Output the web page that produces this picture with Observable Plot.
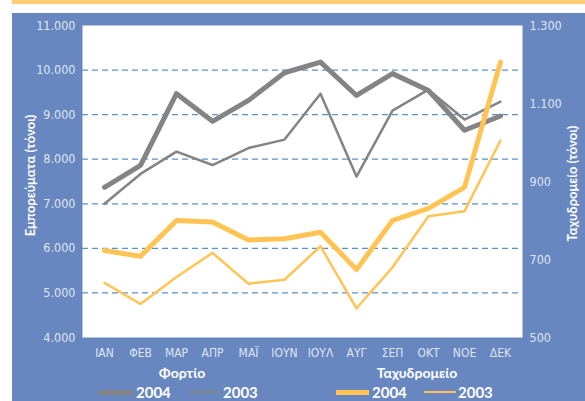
<!DOCTYPE html>
<html><head><meta charset="utf-8">
<script src="https://cdn.jsdelivr.net/npm/d3@7"></script>
<script src="https://cdn.jsdelivr.net/npm/@observablehq/plot@0.6"></script>
<style>
html,body{margin:0;padding:0;background:#fff;}
#wrap{position:relative;width:585px;height:401px;overflow:hidden;background:#fff;}
#ybar{position:absolute;left:12px;top:0;width:573px;height:4px;background:#ffcd75;}
#panel{position:absolute;left:12px;top:13px;width:573px;height:388px;background:#6887c1;}
#chart{position:absolute;left:0;top:0;}
.lg{position:absolute;color:#fff;font-family:Lato,"Open Sans",sans-serif;font-weight:bold;white-space:nowrap;line-height:1;}
.sw{position:absolute;}
</style></head>
<body>
<div id="wrap">
  <div id="ybar"></div>
  <div id="panel"></div>
  <div id="chart"></div>
  <div id="legend"></div>
</div>
<script>
const months = ["ΙΑΝ","ΦΕΒ","ΜΑΡ","ΑΠΡ","ΜΑΪ","ΙΟΥΝ","ΙΟΥΛ","ΑΥΓ","ΣΕΠ","ΟΚΤ","ΝΟΕ","ΔΕΚ"];
const freight2004 = [7370, 7860, 9470, 8850, 9320, 9940, 10180, 9430, 9920, 9540, 8650, 8970];
const freight2003 = [7000, 7670, 8170, 7870, 8250, 8440, 9470, 7610, 9090, 9560, 8890, 9290];
const mail2004 = [723, 708, 800, 796, 750, 753, 770, 674, 800, 831, 885, 1206];
const mail2003 = [640, 586, 655, 717, 638, 648, 734, 575, 680, 811, 824, 1005];
const leftTicks = [4000, 5000, 6000, 7000, 8000, 9000, 10000, 11000];
const rightTicks = [500, 700, 900, 1100, 1300];
const gridValues = [5000, 6000, 7000, 8000, 9000, 10000];
const leftDomain = [4000, 11000];
const rightDomain = [500, 1300];
const leftLabel = "Εμπορεύματα (τόνοι)";
const rightLabel = "Ταχυδρομείο (τόνοι)";
const groupFreight = "Φορτίο";
const groupMail = "Ταχυδρομείο";
const years = ["2004", "2003"];

const GRAY = "#848484", YEL = "#ffc454";
const loc = d3.formatLocale({decimal: ",", thousands: ".", grouping: [3], currency: ["", ""]});
const fmt = loc.format(",");
const toLeft = v => leftDomain[0] + (v - rightDomain[0]) * (leftDomain[1] - leftDomain[0]) / (rightDomain[1] - rightDomain[0]);
const fromLeft = v => rightDomain[0] + (v - leftDomain[0]) * (rightDomain[1] - rightDomain[0]) / (leftDomain[1] - leftDomain[0]);

const rows = (vals, tf) => months.map((m, i) => ({m, v: tf ? tf(vals[i]) : vals[i]}));
const tickFont = '"Liberation Sans Narrow","DejaVu Sans Condensed",sans-serif';

const plot = Plot.plot({
  width: 585, height: 362,
  marginLeft: 82, marginRight: 63, marginTop: 25, marginBottom: 25,
  style: {background: "transparent", color: "#dfe5f1", fontFamily: tickFont, fontSize: "12.5px"},
  x: {type: "point", domain: months, padding: 0.5},
  y: {domain: leftDomain},
  marks: [
    Plot.frame({fill: "white", stroke: null}),
    Plot.ruleY(gridValues, {stroke: "#5a92c6", strokeWidth: 1.2, strokeDasharray: "6,4"}),
    Plot.axisY({anchor: "left", ticks: leftTicks, tickSize: 0, tickPadding: 7, tickFormat: fmt, label: null}),
    Plot.axisY({anchor: "right", ticks: rightTicks.map(toLeft), tickSize: 0, tickPadding: 7, tickFormat: d => fmt(Math.round(fromLeft(d))), label: null}),
    Plot.axisX({anchor: "bottom", tickSize: 0, tickPadding: 11, label: null, fontSize: "12px"}),
    Plot.lineY(rows(freight2003), {x: "m", y: "v", stroke: GRAY, strokeWidth: 2.5, strokeLinejoin: "round"}),
    Plot.lineY(rows(freight2004), {x: "m", y: "v", stroke: GRAY, strokeWidth: 5, strokeLinejoin: "round"}),
    Plot.lineY(rows(mail2003, toLeft), {x: "m", y: "v", stroke: YEL, strokeWidth: 2.5, strokeLinejoin: "round"}),
    Plot.lineY(rows(mail2004, toLeft), {x: "m", y: "v", stroke: YEL, strokeWidth: 5, strokeLinejoin: "round"}),
    Plot.text([leftLabel], {frameAnchor: "left", dx: -52, dy: -6, rotate: -90, fill: "white", fontWeight: "bold", fontSize: 13, fontFamily: "Lato, 'Open Sans', sans-serif", textAnchor: "middle", lineAnchor: "middle"}),
    Plot.text([rightLabel], {frameAnchor: "right", dx: 50, dy: 2, rotate: -90, fill: "white", fontWeight: "bold", fontSize: 13, fontFamily: "Lato, 'Open Sans', sans-serif", textAnchor: "middle", lineAnchor: "middle"})
  ]
});
document.getElementById("chart").appendChild(plot);

// Legend
const lg = document.getElementById("legend");
function addText(txt, left, top, size, center) {
  const s = document.createElement("div");
  s.className = "lg";
  s.textContent = txt;
  s.style.fontSize = size + "px";
  s.style.top = top + "px";
  if (center) { s.style.left = left + "px"; s.style.transform = "translateX(-50%)"; }
  else s.style.left = left + "px";
  lg.appendChild(s);
}
function addSwatch(left, width, thick, color, cy) {
  const s = document.createElement("div");
  s.className = "sw";
  s.style.left = left + "px"; s.style.width = width + "px";
  s.style.height = thick + "px"; s.style.top = (cy - thick / 2) + "px";
  s.style.background = color;
  lg.appendChild(s);
}
addText(groupFreight, 182, 366, 14, true);
addText(groupMail, 417, 366, 14, true);
addSwatch(99, 34, 5, GRAY, 392);
addText(years[0], 136, 385, 15, false);
addSwatch(188, 32, 2.5, GRAY, 392);
addText(years[1], 223, 385, 15, false);
addSwatch(336, 33, 5, YEL, 392);
addText(years[0], 372, 385, 15, false);
addSwatch(424, 32, 2.5, YEL, 392);
addText(years[1], 458, 385, 15, false);
</script>
</body></html>
